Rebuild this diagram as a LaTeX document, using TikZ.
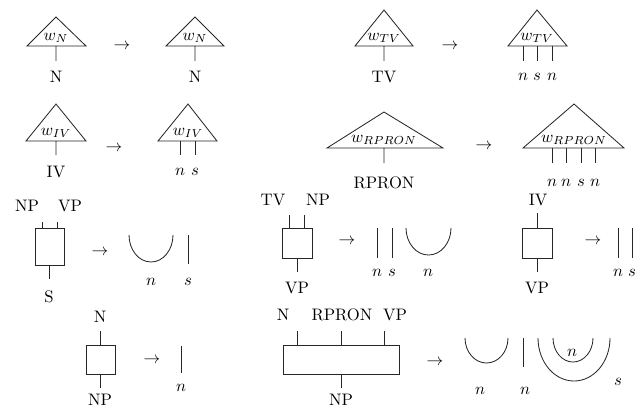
\documentclass[tikz,border=0pt]{standalone}
\usetikzlibrary{arrows.meta}
\tikzset{lbl/.style={inner sep=0pt,font=\normalsize}}

\begin{document}
\begin{tikzpicture}[x=0.6pt,y=-0.6pt,line width=0.5pt,draw=black!85]
\useasboundingbox (0,0) rectangle (642,408);
% row 1
\draw (56,17) -- (86,46) -- (27,46) -- cycle (56,46) -- (56,61);
\node[lbl] (wn1) at (56,38) {$w_N$};
\node[lbl] (n1) at (56,77) {N};
\node[lbl] (a1) at (122,46) {$\rightarrow$};
\draw (195,17) -- (224,46) -- (166,46) -- cycle (195,46) -- (195,61);
\node[lbl] (wn2) at (195,38) {$w_N$};
\node[lbl] (n2) at (195,77) {N};
\draw (384,10) -- (413,46) -- (355,46) -- cycle (384,46) -- (384,61);
\node[lbl] (wtv1) at (384,38) {$w_{TV}$};
\node[lbl] (tv1) at (384,77) {TV};
\node[lbl] (a2) at (450,46) {$\rightarrow$};
\draw (537,10) -- (567,46) -- (508,46) -- cycle;
\node[lbl] (wtv2) at (537,38) {$w_{TV}$};
\foreach \x/\t in {523/n,537/s,552/n}{
  \draw (\x,46) -- (\x,61);
  \node[lbl] at (\x,77) {$\t$};}
% row 2
\draw (56,104) -- (86,141) -- (26,141) -- cycle (56,141) -- (56,155);
\node[lbl] (wiv1) at (56,133) {$w_{IV}$};
\node[lbl] (iv1) at (56,172) {IV};
\node[lbl] (a3) at (114,148) {$\rightarrow$};
\draw (188,104) -- (217,141) -- (158,141) -- cycle;
\node[lbl] (wiv2) at (188,133) {$w_{IV}$};
\foreach \x/\t in {180/n,195/s}{
  \draw (\x,141) -- (\x,155);
  \node[lbl] at (\x,172) {$\t$};}
\draw (384,112) -- (443,148) -- (327,148) -- cycle (384,148) -- (384,163);
\node[lbl] (wrp1) at (384,140) {$w_{RPRON}$};
\node[lbl] (rp1) at (384,183) {RPRON};
\node[lbl] (a4) at (484,146) {$\rightarrow$};
\draw (574,104) -- (624,148) -- (523,148) -- cycle;
\node[lbl] (wrp2) at (574,140) {$w_{RPRON}$};
\foreach \x/\t in {552/n,566/n,581/s,595/n}{
  \draw (\x,148) -- (\x,163);
  \node[lbl] at (\x,183) {$\t$};}
% row 3
\node[lbl] (np1) at (27,206) {NP};
\node[lbl] (vp1) at (70,206) {VP};
\draw (42,222) -- (42,228) (57,222) -- (57,228) (49,265) -- (49,279);
\draw (35,228) rectangle (64,265);
\node[lbl] (s1) at (49,297) {S};
\node[lbl] (a5) at (100,252) {$\rightarrow$};
\draw (129,235) arc[start angle=180,end angle=0,x radius=22,y radius=27];
\draw (188,235) -- (188,264);
\node[lbl] at (151,282) {$n$};
\node[lbl] at (188,282) {$s$};
\node[lbl] (tv2) at (273,200) {TV};
\node[lbl] (np2) at (318,200) {NP};
\draw (289,215) -- (289,228) (304,215) -- (304,228) (297,258) -- (297,272);
\draw (282,228) rectangle (312,258);
\node[lbl] (vp2) at (297,288) {VP};
\node[lbl] (a6) at (347,241) {$\rightarrow$};
\draw (377,228) -- (377,258) (392,228) -- (392,258);
\draw (406,228) arc[start angle=180,end angle=0,x radius=22.5,y radius=27];
\node[lbl] at (377,273) {$n$};
\node[lbl] at (392,273) {$s$};
\node[lbl] at (428,273) {$n$};
\node[lbl] (iv2) at (538,200) {IV};
\draw (537,213) -- (537,228) (537,258) -- (537,272);
\draw (522,228) rectangle (552,258);
\node[lbl] (vp3) at (537,288) {VP};
\node[lbl] (a7) at (593,241) {$\rightarrow$};
\draw (618,228) -- (618,258) (632,228) -- (632,258);
\node[lbl] at (618,273) {$n$};
\node[lbl] at (632,273) {$s$};
% row 4
\node[lbl] (n3) at (100,317) {N};
\draw (100,331) -- (100,345) (100,374) -- (100,388);
\draw (86,345) rectangle (115,374);
\node[lbl] (np3) at (100,400) {NP};
\node[lbl] (a8) at (152,360) {$\rightarrow$};
\draw (181,346) -- (181,373);
\node[lbl] at (181,388) {$n$};
\node[lbl] (n4) at (283,315) {N};
\node[lbl] (rp2) at (342,315) {RPRON};
\node[lbl] (vp4) at (395,315) {VP};
\draw (297,331) -- (297,345) (341,331) -- (341,345) (384,331) -- (384,345)
  (341,374) -- (341,388);
\draw (283,345) rectangle (399,374);
\node[lbl] (np4) at (341,400) {NP};
\node[lbl] (a9) at (435,362) {$\rightarrow$};
\draw (465,338) arc[start angle=180,end angle=0,x radius=21.5,y radius=25];
\draw (523,338) -- (523,367);
\draw (538,338) arc[start angle=180,end angle=0,x radius=36,y radius=43];
\draw (553,338) arc[start angle=180,end angle=0,x radius=20,y radius=24];
\node[lbl] at (480,391) {$n$};
\node[lbl] at (525,391) {$n$};
\node[lbl] at (572,353) {$n$};
\node[lbl] at (618,382) {$s$};
\end{tikzpicture}
\end{document}
